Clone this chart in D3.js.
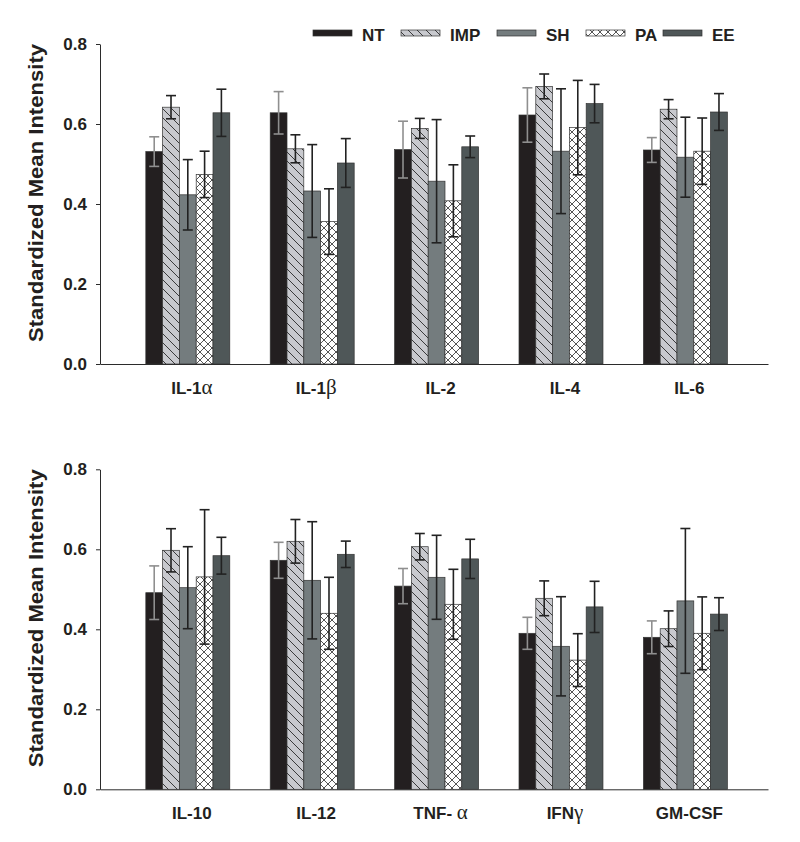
<!DOCTYPE html>
<html>
<head>
<meta charset="utf-8">
<script src="https://cdn.jsdelivr.net/npm/d3@7"></script>
<style>
  html, body { margin: 0; padding: 0; background: #fff; }
  svg { display: block; }
  text { font-family: "Liberation Sans", Arial, Helvetica, sans-serif; }
</style>
</head>
<body>
<div id="chart"></div>
<script>
// ---------- DATA ----------
const series = ["NT", "IMP", "SH", "PA", "EE"];
const topCategories = ["IL-1α", "IL-1β", "IL-2", "IL-4", "IL-6"];
const bottomCategories = ["IL-10", "IL-12", "TNF- α", "IFNγ", "GM-CSF"];
const yTicks = [0, 0.2, 0.4, 0.6, 0.8];
const yLabel = "Standardized Mean Intensity";

// rows = series (NT, IMP, SH, PA, EE), columns = categories
const topMeans = [
  [0.531, 0.628, 0.536, 0.6225, 0.535],
  [0.642, 0.538, 0.589, 0.694, 0.637],
  [0.423, 0.4325, 0.457, 0.532, 0.517],
  [0.474, 0.356, 0.408, 0.591, 0.532],
  [0.628, 0.5025, 0.543, 0.651, 0.630]
];
const topErrors = [
  [0.037, 0.053, 0.071, 0.068, 0.031],
  [0.029, 0.035, 0.025, 0.031, 0.024],
  [0.088, 0.116, 0.154, 0.156, 0.100],
  [0.058, 0.082, 0.090, 0.118, 0.083],
  [0.059, 0.061, 0.027, 0.048, 0.046]
];
const bottomMeans = [
  [0.4915, 0.5725, 0.508, 0.390, 0.380],
  [0.5975, 0.620, 0.6065, 0.4775, 0.4015],
  [0.504, 0.5225, 0.530, 0.3575, 0.471],
  [0.531, 0.440, 0.4625, 0.323, 0.390],
  [0.584, 0.5875, 0.576, 0.456, 0.438]
];
const bottomErrors = [
  [0.067, 0.045, 0.044, 0.040, 0.041],
  [0.054, 0.0545, 0.033, 0.0435, 0.0445],
  [0.1025, 0.1465, 0.105, 0.124, 0.181],
  [0.168, 0.090, 0.0875, 0.066, 0.091],
  [0.046, 0.033, 0.049, 0.064, 0.041]
];

// ---------- STYLE ----------
const W = 800, H = 842;
const fills = {NT: "#231f20", IMP: "url(#hatchIMP)", SH: "#747c7e", PA: "url(#hatchPA)", EE: "#4f5758"};
const errColor = {NT: "#8f8f8f", IMP: "#222", SH: "#222", PA: "#222", EE: "#222"};
const axisColor = "#2b2b2b";
const textColor = "#231f20";

const svg = d3.select("#chart").append("svg").attr("width", W).attr("height", H);
const defs = svg.append("defs");

// IMP diagonal hatch
const pImp = defs.append("pattern").attr("id", "hatchIMP").attr("patternUnits", "userSpaceOnUse")
  .attr("width", 9).attr("height", 9);
pImp.append("rect").attr("width", 9).attr("height", 9).attr("fill", "#c8c9ce");
pImp.append("path").attr("d", "M-1,-1 L10,10 M-1,8 L1,10 M8,-1 L10,1")
  .attr("stroke", "#2a2a2a").attr("stroke-width", 0.9);

// PA cross hatch
const pPa = defs.append("pattern").attr("id", "hatchPA").attr("patternUnits", "userSpaceOnUse")
  .attr("width", 8).attr("height", 8);
pPa.append("rect").attr("width", 8).attr("height", 8).attr("fill", "#fff");
pPa.append("path").attr("d", "M0,0 L8,8 M8,0 L0,8")
  .attr("stroke", "#2a2a2a").attr("stroke-width", 0.8);

// ---------- SCALES ----------
const x = d3.scaleBand().domain(d3.range(5)).range([100, 768])
  .paddingInner(0.325).paddingOuter(0.3475).align(0.53);
const xs = d3.scaleBand().domain(series).range([0, x.bandwidth()]).padding(0);

function drawPanel(yBottom, categories, means, errors) {
  const y = d3.scaleLinear().domain([0, 0.8]).range([yBottom, yBottom - 320]);
  const g = svg.append("g");

  // y axis
  const yAxis = d3.axisLeft(y).tickValues(yTicks).tickFormat(d3.format(".1f"))
    .tickSizeOuter(0).tickSizeInner(4).tickPadding(9);
  const ya = g.append("g").attr("transform", "translate(100,0)").call(yAxis);
  ya.select(".domain").attr("stroke", axisColor);
  ya.selectAll(".tick line").attr("stroke", axisColor);
  ya.selectAll(".tick text").attr("font-size", 17).attr("font-weight", "bold").attr("fill", textColor)
    .attr("font-family", '"Liberation Sans", Arial, sans-serif');

  // x axis line
  const xAxis = d3.axisBottom(d3.scaleLinear().domain([0, 1]).range([100, 768])).tickValues([]).tickSizeOuter(0);
  const xa = g.append("g").attr("transform", `translate(0,${yBottom})`).call(xAxis);
  xa.select(".domain").attr("stroke", axisColor);

  // category labels
  categories.forEach((c, i) => {
    const t = g.append("text").attr("x", x(i) + x.bandwidth() / 2 + 4).attr("y", yBottom + 30)
      .attr("text-anchor", "middle").attr("font-size", 17).attr("font-weight", "bold").attr("fill", textColor);
    const m = c.match(/^(.*?)([αβγ])$/);
    if (m) {
      t.append("tspan").text(m[1]);
      t.append("tspan").text(m[2]).attr("font-weight", "normal")
        .attr("font-family", '"Liberation Serif", "DejaVu Serif", serif').attr("font-size", 21);
    } else {
      t.text(c);
    }
  });

  // bars
  series.forEach((s, si) => {
    const gs = g.append("g");
    gs.selectAll("rect").data(means[si]).join("rect")
      .attr("x", (d, i) => x(i) + xs(s))
      .attr("y", d => y(d))
      .attr("width", xs.bandwidth())
      .attr("height", d => y(0) - y(d))
      .attr("fill", fills[s])
      .attr("stroke", "#333")
      .attr("stroke-width", 0.7);
  });

  // error bars
  series.forEach((s, si) => {
    const ge = g.append("g").attr("stroke", errColor[s]).attr("stroke-width", 1.6).attr("fill", "none");
    means[si].forEach((m, i) => {
      const e = errors[si][i];
      const cx = x(i) + xs(s) + xs.bandwidth() / 2;
      const cw = 5;
      ge.append("line").attr("x1", cx).attr("x2", cx).attr("y1", y(m + e)).attr("y2", y(m - e));
      ge.append("line").attr("x1", cx - cw).attr("x2", cx + cw).attr("y1", y(m + e)).attr("y2", y(m + e));
      ge.append("line").attr("x1", cx - cw).attr("x2", cx + cw).attr("y1", y(m - e)).attr("y2", y(m - e));
    });
  });

  // y title
  g.append("text")
    .attr("transform", `translate(43,${yBottom - 171}) rotate(-90)`)
    .attr("text-anchor", "middle").attr("font-size", 21).attr("font-weight", "bold").attr("fill", textColor)
    .attr("textLength", 298).attr("lengthAdjust", "spacingAndGlyphs")
    .text(yLabel);
}

drawPanel(364, topCategories, topMeans, topErrors);
drawPanel(789.3, bottomCategories, bottomMeans, bottomErrors);

// ---------- LEGEND ----------
const legendSwatchX = [313, 401, 497, 586, 663];
const lg = svg.append("g");
series.forEach((s, i) => {
  lg.append("rect").attr("x", legendSwatchX[i]).attr("y", 30).attr("width", 39).attr("height", 6)
    .attr("fill", fills[s]).attr("stroke", "#333").attr("stroke-width", 0.7);
  lg.append("text").attr("x", legendSwatchX[i] + 49).attr("y", 41)
    .attr("font-size", 17).attr("font-weight", "bold").attr("fill", textColor).text(s);
});
</script>
</body>
</html>
